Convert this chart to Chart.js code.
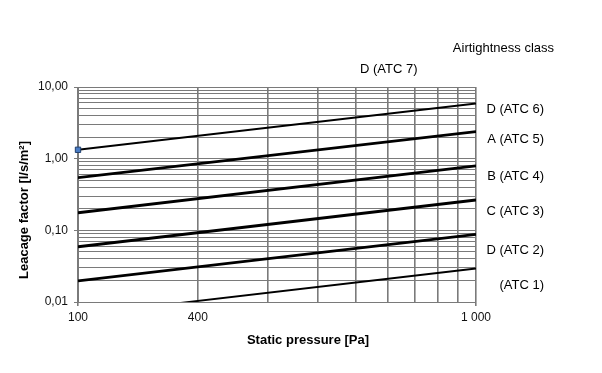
<!DOCTYPE html>
<html>
<head>
<meta charset="utf-8">
<script src="https://cdn.jsdelivr.net/npm/chart.js@4.4.1/dist/chart.umd.min.js"></script>
<style>
  html,body{margin:0;padding:0;background:#fff;}
  #wrap{width:602px;height:373px;}
</style>
</head>
<body>
<div id="wrap"><canvas id="chart" width="602" height="373"></canvas></div>
<script>
// pressure range (Pa) and leakage values at 100 and 1000 Pa
const pressures=[100,1000];
const atc6=[1.33,5.9];
const atc5=[0.544,2.39];
const atc4=[0.176,0.793];
const atc3=[0.059,0.265];
const atc2=[0.0197,0.088];
const atc1=[0.0066,0.0294];
const markerPoint=[100,1.33];

// axis ticks and labels
const xTicks=[100,200,300,400,500,600,700,800,900,1000];
const xTickLabels={100:"100",200:"400",1000:"1 000"};
const yTicks=[0.01,0.02,0.03,0.04,0.05,0.06,0.07,0.08,0.09,0.1,0.2,0.3,0.4,0.5,0.6,0.7,0.8,0.9,1,2,3,4,5,6,7,8,9,10];
const yTickLabels={0.01:"0,01",0.1:"0,10",1:"1,00",10:"10,00"};

const classLabels=["D (ATC 6)","A (ATC 5)","B (ATC 4)","C (ATC 3)","D (ATC 2)","(ATC 1)"];
const xTitle="Static pressure [Pa]";
const yTitle="Leacage factor [l/s/m²]";
const headTitle="Airtightness class";
const atc7Label="D (ATC 7)";

const toPts=(vals)=>pressures.map((p,i)=>({x:p,y:vals[i]}));

const gridCol="#7a7a7a";
const font="'Liberation Sans', Arial, sans-serif";

const textPlugin={
    id:"texts",
    afterDraw(chart){
        const ctx=chart.ctx;
        ctx.save();
        ctx.fillStyle="#000";
        ctx.font="13px "+font;
        ctx.textBaseline="middle";
        ctx.textAlign="right";
        const ys=[109,139,176,211,250,285];
        classLabels.forEach((t,i)=>ctx.fillText(t,544,ys[i]));
        ctx.fillText(headTitle,554,48);
        ctx.textAlign="left";
        ctx.fillText(atc7Label,360,69);
        ctx.font="bold 13px "+font;
        ctx.textAlign="center";
        ctx.fillText(xTitle,308,340);
        ctx.translate(24,210);
        ctx.rotate(-Math.PI/2);
        ctx.fillText(yTitle,0,0);
        ctx.restore();
    }
};

const lineDs=(vals,w)=>({
    data:toPts(vals),
    borderColor:"#000",
    borderWidth:w,
    pointRadius:0,
    fill:false,
    tension:0
});

new Chart(document.getElementById("chart"),{
    type:"line",
    data:{
        datasets:[
            {
                data:[{x:markerPoint[0],y:markerPoint[1]}],
                showLine:false,
                pointStyle:"rect",
                pointRadius:3.8,
                backgroundColor:"#4a7cc4",
                borderColor:"#20406e",
                pointBorderWidth:1,
                clip:false
            },
            lineDs(atc6,1.9),
            lineDs(atc5,2.8),
            lineDs(atc4,2.8),
            lineDs(atc3,2.8),
            lineDs(atc2,2.8),
            lineDs(atc1,1.9)
        ]
    },
    options:{
        responsive:false,
        animation:false,
        events:[],
        layout:{padding:{left:0,top:87,right:126,bottom:0}},
        plugins:{legend:{display:false},tooltip:{enabled:false}},
        scales:{
            x:{
                type:"logarithmic",
                min:100,max:1000,
                afterBuildTicks:(s)=>{s.ticks=xTicks.map(v=>({value:v}));},
                afterFit:(s)=>{s.height=71;},
                border:{color:gridCol,width:1},
                grid:{
                    color:gridCol,
                    lineWidth:1.6,
                    tickLength:4,
                    tickColor:(c)=>xTickLabels[c.tick&&c.tick.value]&&c.tick.value!==200?gridCol:"rgba(0,0,0,0)"
                },
                ticks:{
                    autoSkip:false,
                    maxRotation:0,
                    padding:4,
                    color:"#111",
                    font:{family:font,size:12},
                    callback:(v)=>xTickLabels[v]||""
                }
            },
            y:{
                type:"logarithmic",
                min:0.01,max:10,
                afterBuildTicks:(s)=>{s.ticks=yTicks.map(v=>({value:v}));},
                afterFit:(s)=>{s.width=78;},
                border:{color:gridCol,width:1},
                grid:{
                    color:gridCol,
                    lineWidth:1,
                    tickLength:4,
                    tickColor:(c)=>yTickLabels[c.tick&&c.tick.value]?gridCol:"rgba(0,0,0,0)"
                },
                ticks:{
                    autoSkip:false,
                    padding:6,
                    color:"#111",
                    font:{family:font,size:12},
                    callback:(v)=>yTickLabels[v]||""
                }
            }
        }
    },
    plugins:[textPlugin]
});
</script>
</body>
</html>
